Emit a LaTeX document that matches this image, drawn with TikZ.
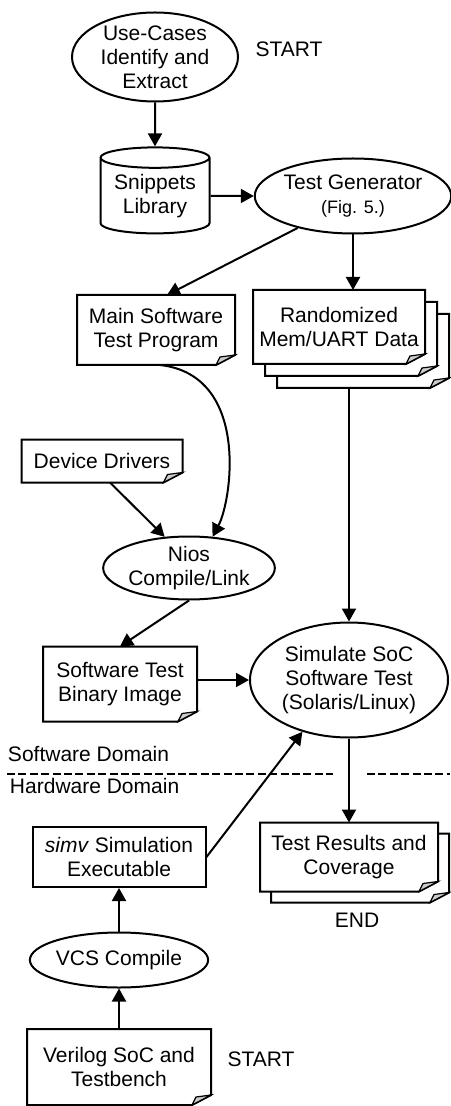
\documentclass[tikz,border=0pt]{standalone}
\usepackage{fontspec}
\setmainfont{Liberation Sans}
\usetikzlibrary{shapes.geometric, arrows.meta, backgrounds}

% page outline with a curled lower right corner
\newcommand{\docpage}[1]{%
  \filldraw[fill=white, line width=1pt] (#1.north west) -- (#1.north east)
    -- ([yshift=5pt]#1.south east) -- ([xshift=-9.5pt]#1.south east)
    -- (#1.south west) -- cycle;
  \filldraw[fill=gray!40, line width=0.6pt] ([yshift=5pt]#1.south east)
    -- ([xshift=-9.5pt]#1.south east) -- ([xshift=-7.5pt, yshift=4pt]#1.south east) -- cycle;
}

\begin{document}
\begin{tikzpicture}[x=0.5pt, y=-0.5pt, line width=1pt,
  font=\fontsize{10.5}{12}\selectfont,
  every node/.style={align=center},
  proc/.style={ellipse, draw, inner sep=0pt},
  docbox/.style={rectangle, inner sep=0pt, outer sep=0pt},
  plainbox/.style={rectangle, draw, inner sep=0pt},
  store/.style={cylinder, shape border rotate=90, draw, aspect=0.25, inner sep=0pt},
  domainlabel/.style={anchor=west, inner sep=0pt},
  flow/.style={-{Triangle[length=6.5pt, width=7pt]}}
]
\useasboundingbox (0,0) rectangle (450,1106);

\node[proc, minimum width=83pt, minimum height=44.5pt] (usecase) at (155,57) {Use-Cases\\Identify and\\Extract};
\node (start1) at (289,49) {START};

\node[store, minimum width=54.5pt, minimum height=43pt] (snippets) at (155,196) {Snippets\\Library};
\node[proc, minimum width=95pt, minimum height=37.5pt] (testgen) at (353,196) {Test Generator\\{\fontsize{9}{10}\selectfont (Fig. 5.)}};

\node[docbox, minimum width=79pt, minimum height=35pt] (mainsw) at (156,330) {Main Software\\Test Program};
\node[docbox, minimum width=86pt, minimum height=37pt] (rand) at (339,327) {Randomized\\Mem/UART Data};
\node[docbox, minimum width=86pt, minimum height=37pt] (rand2) at (351,339) {};
\node[docbox, minimum width=86pt, minimum height=37pt] (rand3) at (363,351) {};

\node[docbox, minimum width=80.5pt, minimum height=21.5pt] (drivers) at (102,461) {Device Drivers};
\node[proc, minimum width=84pt, minimum height=31.5pt] (nios) at (189,568) {Nios\\Compile/Link};

\node[docbox, minimum width=77pt, minimum height=37.5pt] (binimg) at (120,684) {Software Test\\Binary Image};
\node[proc, minimum width=99pt, minimum height=57.5pt] (simulate) at (349,680) {Simulate SoC\\Software Test\\(Solaris/Linux)};

\node[domainlabel] (swdomain) at (7,754) {Software Domain};
\node[domainlabel] (hwdomain) at (9,786) {Hardware Domain};
\coordinate (dashL) at (7,774);
\coordinate (gapL) at (333,774);
\coordinate (gapR) at (367,774);
\coordinate (dashR) at (450,774);

\node[plainbox, minimum width=86.5pt, minimum height=30pt] (simv) at (119,857) {\textit{simv} Simulation\\Executable};
\node[docbox, minimum width=89pt, minimum height=34.5pt] (results) at (349,857) {Test Results and\\Coverage};
\node[docbox, minimum width=89pt, minimum height=34.5pt] (results2) at (360,868) {};
\node (end) at (357,920) {END};

\node[proc, minimum width=84.5pt, minimum height=27.5pt] (vcs) at (119,960) {VCS Compile};
\node[docbox, minimum width=92pt, minimum height=38pt] (verilog) at (119,1067) {Verilog SoC and\\Testbench};
\node (start2) at (261,1059) {START};

% page outlines behind the texts
\begin{scope}[on background layer]
  \foreach \pg in {rand3, rand2, rand, mainsw, drivers, binimg, results2, results, verilog} {\docpage{\pg}}
\end{scope}

% connectors
\draw[flow] (usecase) -- (snippets);
\draw[flow] (snippets) -- (testgen);
\draw[flow] (testgen.210) -- ([xshift=5.5pt]mainsw.north);
\draw[flow] (testgen.south) -- (testgen.south |- rand.north);
\draw[flow] ([xshift=2pt]mainsw.south) .. controls (250,375) and (232,500) .. (nios.53);
\draw[flow] ([xshift=4pt]drivers.south) -- (nios.128);
\draw[flow] (nios.south) -- (binimg.north);
\draw[flow] (binimg.east |- simulate.west) -- (simulate.west);
\draw[flow] (simulate.north |- rand3.south) -- (simulate.north);
\draw[flow] (simulate.south) -- (simulate.south |- results.north);
\draw[flow] (simv.east) -- (simulate.228);
\draw[flow] (vcs.north) -- (simv.south);
\draw[flow] (verilog.north) -- (vcs.south);

\draw[dash pattern=on 4pt off 1.7pt] (dashL) -- (gapL) (gapR) -- (dashR);
\end{tikzpicture}
\end{document}
